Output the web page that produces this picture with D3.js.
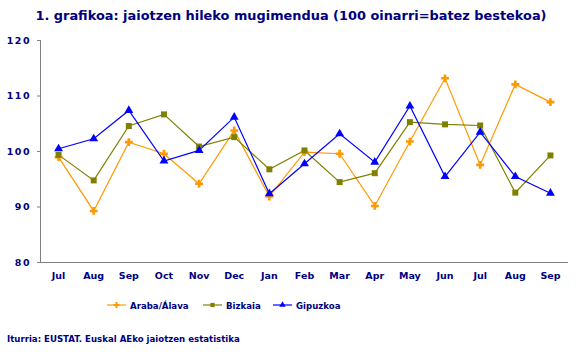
<!DOCTYPE html>
<html><head><meta charset="utf-8">
<script src="https://cdn.jsdelivr.net/npm/d3@7"></script>
<style>body{margin:0;background:#fff}svg{display:block;font-family:"DejaVu Sans",Verdana,sans-serif}</style>
</head><body><svg id="c" width="588" height="356"></svg>
<script>
const months = ["Jul","Aug","Sep","Oct","Nov","Dec","Jan","Feb","Mar","Apr","May","Jun","Jul","Aug","Sep"];
const araba = [98.9,89.2,101.6,99.5,94.1,103.7,91.8,99.8,99.5,90.1,101.7,113.1,97.5,112.0,108.8];
const bizkaia = [99.3,94.7,104.5,106.6,100.8,102.5,96.7,100.1,94.4,96.0,105.2,104.8,104.6,92.5,99.2];
const gipuzkoa = [100.4,102.2,107.3,98.2,100.1,106.1,92.3,97.7,103.1,98.0,108.1,95.4,103.4,95.4,92.4];
const yTicks = [80,90,100,110,120];
const seriesNames = ["Araba/Álava","Bizkaia","Gipuzkoa"];
const colors = ["#FF9900","#808000","#0000FF"];
const symbols = [d3.symbolCross, d3.symbolSquare, d3.symbolTriangle];
const navy = "#000080";

const svg = d3.select("#c");
const L = 41, R = 568, T = 40, B = 262;
const idx = months.map((m,i)=>i);
const x = d3.scaleBand().domain(idx).range([L,R]);
const y = d3.scaleLinear().domain([80,120]).range([B,T]);

svg.append("text").attr("x",291).attr("y",20).attr("text-anchor","middle")
  .attr("fill",navy).attr("font-weight","bold").attr("font-size",12.9)
  .text("1. grafikoa: jaiotzen hileko mugimendua (100 oinarri=batez bestekoa)");

// y axis
const ya = svg.append("g").attr("transform",`translate(${L},0)`)
  .call(d3.axisLeft(y).tickValues(yTicks).tickSize(4).tickPadding(6));
ya.select(".domain").attr("stroke","#808080").attr("d",`M-0.5,${T}V${B}`);
ya.selectAll(".tick line").attr("stroke","#808080");
ya.selectAll("text").attr("fill",navy).attr("font-weight","bold").attr("font-size",9.5).attr("font-family","DejaVu Sans").attr("letter-spacing",1.5);

// x axis
const xa = svg.append("g").attr("transform",`translate(0,${B})`)
  .call(d3.axisBottom(x).tickFormat(i=>months[i]).tickSize(0).tickPadding(10));
xa.select(".domain").attr("stroke","#808080").attr("d",`M${L},0.5H${R}`);
xa.selectAll("text").attr("fill",navy).attr("font-weight","bold").attr("font-size",9.5).attr("font-family","DejaVu Sans");

const cx = i => x(i) + x.bandwidth()/2;
const data = [araba,bizkaia,gipuzkoa];
const line = d3.line().x((d,i)=>cx(i)).y(d=>y(d));
data.forEach((s,k)=>{
  svg.append("path").datum(s).attr("d",line).attr("fill","none").attr("stroke",colors[k]).attr("stroke-width",1.2);
});
data.forEach((s,k)=>{
  const sz = k===0?34:(k===1?36:34);
  svg.append("g").selectAll("path").data(s).join("path")
    .attr("transform",(d,i)=>`translate(${cx(i)},${y(d)})`)
    .attr("d",d3.symbol().type(symbols[k]).size(sz)).attr("fill",colors[k]);
});

// legend
const legX = [107,203,273];
seriesNames.forEach((n,k)=>{
  const g = svg.append("g").attr("transform",`translate(${legX[k]},305)`);
  g.append("line").attr("x1",0).attr("x2",19).attr("stroke",colors[k]).attr("stroke-width",1.2);
  g.append("path").attr("transform","translate(9.5,0)").attr("d",d3.symbol().type(symbols[k]).size(k===0?20:18)).attr("fill",colors[k]);
  g.append("text").attr("x",23).attr("y",4).attr("fill",navy).attr("font-weight","bold").attr("font-size",8.6).text(n);
});

svg.append("text").attr("x",7).attr("y",342).attr("fill",navy).attr("font-weight","bold").attr("font-size",8.6)
  .text("Iturria: EUSTAT. Euskal AEko jaiotzen estatistika");
</script></body></html>
